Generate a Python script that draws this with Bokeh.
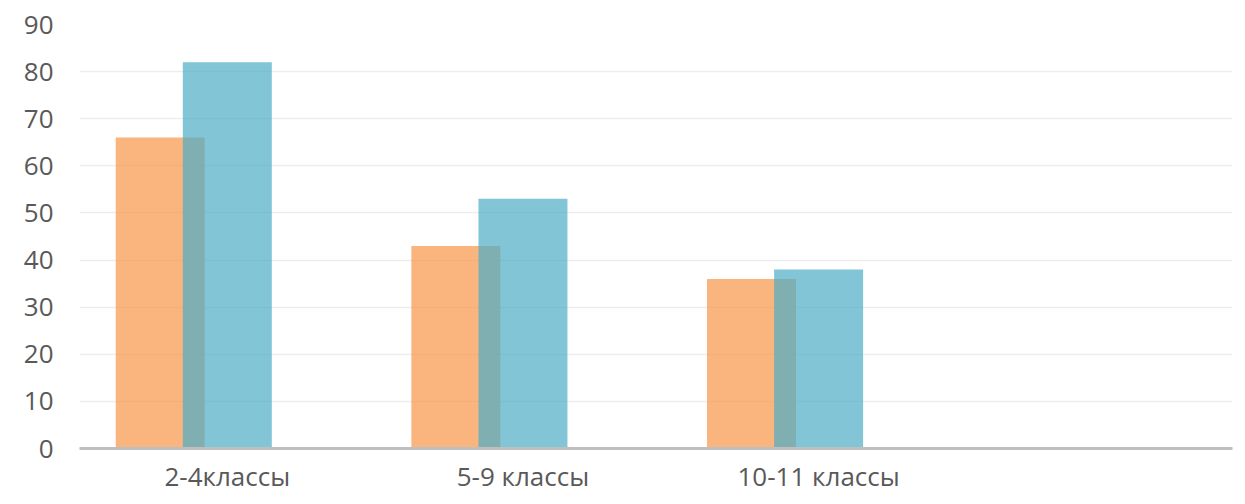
from bokeh.plotting import figure
from bokeh.models import Range1d, FixedTicker, ColumnDataSource
from bokeh.transform import dodge
from bokeh.embed import file_html
from bokeh.resources import INLINE

categories = ["2-4классы", "5-9 классы", "10-11 классы", ""]
series_orange = [66, 43, 36]
series_blue = [82, 53, 38]
y_ticks = [0, 10, 20, 30, 40, 50, 60, 70, 80, 90]

idx = [i + 0.5 for i in range(len(series_orange))]
src = ColumnDataSource(dict(x=idx, orange=series_orange, blue=series_blue))

p = figure(width=1237, height=496, output_backend="svg", toolbar_location=None,
           x_range=Range1d(0, 3.9), y_range=Range1d(0, 90),
           min_border_left=79, min_border_right=5, min_border_top=24, min_border_bottom=48)
p.outline_line_color = None

p.vbar(x=dodge("x", -0.227), top="orange", width=0.301, bottom=0, source=src,
       fill_color="#F79646", fill_alpha=0.7, line_color=None)
p.vbar(x="x", top="blue", width=0.301, bottom=0, source=src,
       fill_color="#4BACC6", fill_alpha=0.7, line_color=None)

p.xgrid.grid_line_color = None
p.ygrid.grid_line_color = "#EDEDED"
p.ygrid.grid_line_width = 1.5
p.ygrid.ticker = FixedTicker(ticks=y_ticks)

p.yaxis.ticker = FixedTicker(ticks=y_ticks)
p.yaxis.axis_line_color = None
p.yaxis.major_tick_line_color = None
p.yaxis.minor_tick_line_color = None
p.yaxis.major_label_text_font = "Open Sans"
p.yaxis.major_label_text_font_size = "26px"
p.yaxis.major_label_text_color = "#595959"
p.yaxis.major_label_standoff = 20

p.xaxis.ticker = FixedTicker(ticks=[i + 0.5 for i in range(len(categories))])
p.xaxis.major_label_overrides = {i + 0.5: c for i, c in enumerate(categories)}
p.xaxis.axis_line_color = "#BFBFBF"
p.xaxis.axis_line_width = 3
p.xaxis.major_tick_line_color = None
p.xaxis.minor_tick_line_color = None
p.xaxis.major_label_text_font = "Open Sans"
p.xaxis.major_label_text_font_size = "26px"
p.xaxis.major_label_text_color = "#595959"
p.xaxis.major_label_standoff = 3

open("out.html", "w").write(file_html(p, INLINE))
